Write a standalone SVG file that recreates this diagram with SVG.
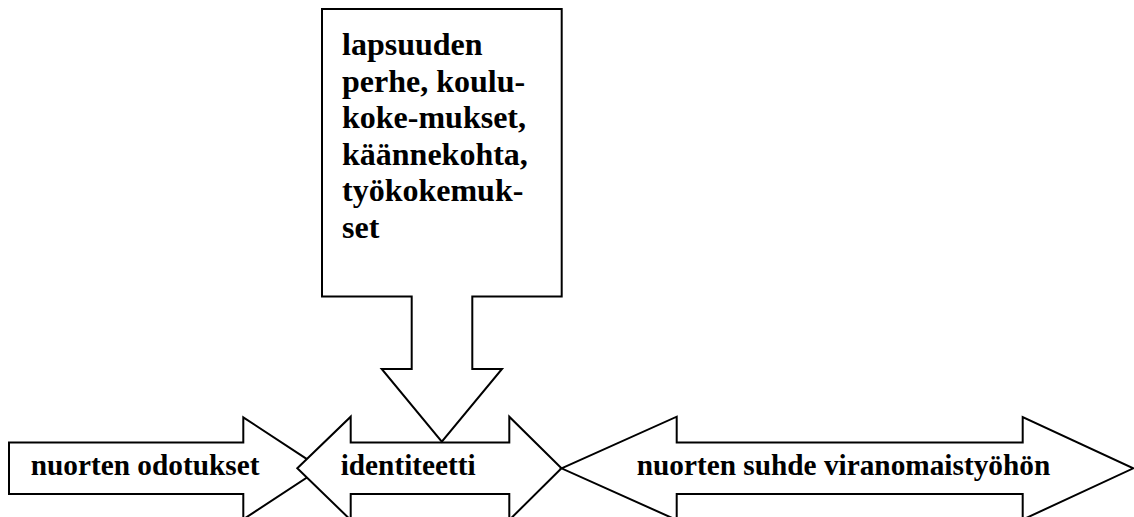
<svg xmlns="http://www.w3.org/2000/svg" width="1134" height="517" viewBox="0 0 1134 517">
<style>
.shape{fill:#fff;stroke:#000;stroke-width:2;stroke-linejoin:miter}
.t{font-family:"Liberation Serif","Times New Roman",serif;font-weight:bold;fill:#000}
.ta{font-size:29.3px}
.tc{font-size:32px}
</style>
<rect width="1134" height="517" fill="#fff"/>
<g id="nuorten-odotukset">
<polygon class="shape" points="9,442.5 243.3,442.5 243.3,417.3 321,468.3 243.3,519.3 243.3,494 9,494"/>
<text class="t ta" x="30.7" y="475">nuorten odotukset</text>
</g>
<g id="identiteetti">
<polygon class="shape" points="297.3,468.3 350.7,416.7 350.7,442.5 509.3,442.5 509.3,416.7 561.5,468.3 509.3,520 509.3,494 350.7,494 350.7,520"/>
<text class="t ta" x="340.7" y="475">identiteetti</text>
</g>
<g id="nuorten-suhde">
<polygon class="shape" points="561.5,468.3 676.7,416.7 676.7,442.5 1022.7,442.5 1022.7,417 1133.3,468.3 1022.7,519.6 1022.7,494 676.7,494 676.7,520"/>
<text class="t ta" x="636.7" y="475">nuorten suhde viranomaistyöhön</text>
</g>
<g id="lapsuuden">
<polygon class="shape" points="322,9 561.7,9 561.7,296.5 472.3,296.5 472.3,369 502,369 441.8,441.7 381.7,369 411.7,369 411.7,296.5 322,296.5"/>
<text class="t tc" x="342" y="55">
<tspan x="342" y="55">lapsuuden</tspan>
<tspan x="342" y="91.6">perhe, koulu-</tspan>
<tspan x="342" y="128.2">koke-mukset,</tspan>
<tspan x="342" y="164.8">käännekohta,</tspan>
<tspan x="342" y="201.4">työkokemuk-</tspan>
<tspan x="342" y="238">set</tspan>
</text>
</g>
<g id="connectors"/>
</svg>
